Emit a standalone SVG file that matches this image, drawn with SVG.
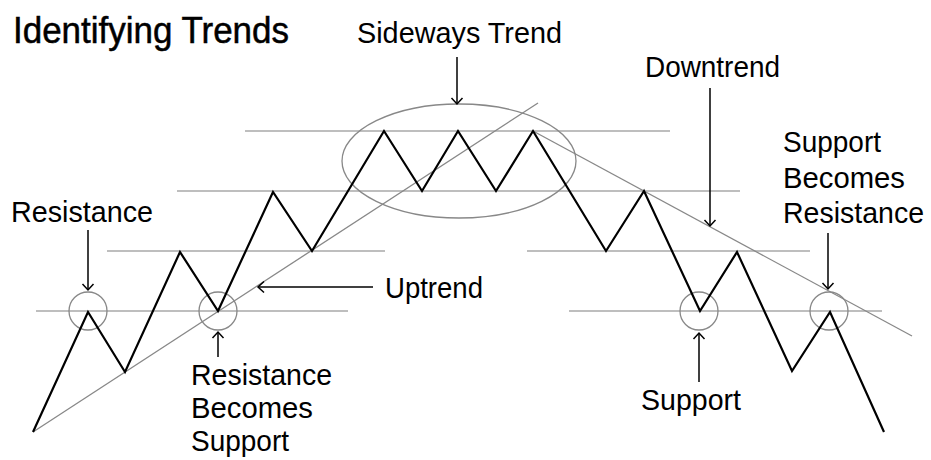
<svg xmlns="http://www.w3.org/2000/svg" width="931" height="460" viewBox="0 0 931 460">
<defs>
<style>
.lbl{font-family:"Liberation Sans",Arial,sans-serif;font-size:29px;fill:#000}
.title{font-family:"Liberation Sans",Arial,sans-serif;font-size:36px;fill:#000;stroke:#000;stroke-width:0.5}
.level{stroke:#a8a8a8;stroke-width:1.5;fill:none}
.trend{stroke:#888;stroke-width:1.3;fill:none}
.ring{stroke:#888;stroke-width:1.3;fill:none}
.price{stroke:#000;stroke-width:2.2;fill:none;stroke-linejoin:miter}
.arrow{stroke:#000;stroke-width:1.5;fill:none;marker-end:url(#head)}
</style>
<marker id="head" viewBox="-8 -7 10 14" markerWidth="10" markerHeight="14" refX="0" refY="0" orient="auto" markerUnits="userSpaceOnUse">
<path d="M-6,-5.5 L0,0 L-6,5.5" stroke="#000" stroke-width="1.5" fill="none"/>
</marker>
</defs>
<rect width="931" height="460" fill="#fff"/>
<g id="title"><text class="title" x="13" y="43" textLength="276" lengthAdjust="spacingAndGlyphs">Identifying Trends</text></g>
<g id="levels">
<line class="level" x1="245" y1="131" x2="670" y2="131"/>
<line class="level" x1="177" y1="191" x2="740" y2="191"/>
<line class="level" x1="107" y1="251" x2="385" y2="251"/>
<line class="level" x1="527" y1="251" x2="810" y2="251"/>
<line class="level" x1="36" y1="311" x2="348" y2="311"/>
<line class="level" x1="569" y1="311" x2="882" y2="311"/>
</g>
<g id="uptrend-line"><line class="trend" x1="33" y1="432" x2="538" y2="103"/></g>
<g id="downtrend-line"><line class="trend" x1="533" y1="131" x2="912" y2="336"/></g>
<g id="sideways-ellipse"><ellipse class="ring" cx="459" cy="161" rx="117" ry="57"/></g>
<g id="resistance-circle"><circle class="ring" cx="88" cy="311" r="19"/></g>
<g id="rbs-circle"><circle class="ring" cx="218" cy="311" r="19"/></g>
<g id="support-circle"><circle class="ring" cx="699" cy="311" r="19"/></g>
<g id="sbr-circle"><circle class="ring" cx="829" cy="311" r="19"/></g>
<g id="price"><polyline class="price" points="33,432 88,312 125,372 180,252 218,311 273,192 312,251 384,131 422,191 458,131 496,191 533,131 606,251 644,191 700,311 737,252 792,371 830,312 884,432"/></g>
<g id="connectors">
<line class="arrow" x1="88" y1="230" x2="88" y2="290"/>
<line class="arrow" x1="218" y1="357" x2="218" y2="332"/>
<line class="arrow" x1="373" y1="287" x2="258" y2="287"/>
<line class="arrow" x1="457" y1="57" x2="457" y2="104"/>
<line class="arrow" x1="710" y1="88" x2="710" y2="226"/>
<line class="arrow" x1="828" y1="233" x2="828" y2="289"/>
<line class="arrow" x1="699" y1="382" x2="699" y2="333"/>
</g>
<g id="label-sideways"><text class="lbl" x="357" y="43" textLength="205" lengthAdjust="spacingAndGlyphs">Sideways Trend</text></g>
<g id="label-downtrend"><text class="lbl" x="645" y="77" textLength="135" lengthAdjust="spacingAndGlyphs">Downtrend</text></g>
<g id="label-sbr">
<text class="lbl" x="783" y="152" textLength="98" lengthAdjust="spacingAndGlyphs">Support</text>
<text class="lbl" x="783" y="188" textLength="122" lengthAdjust="spacingAndGlyphs">Becomes</text>
<text class="lbl" x="783" y="223" textLength="141" lengthAdjust="spacingAndGlyphs">Resistance</text>
</g>
<g id="label-resistance"><text class="lbl" x="11" y="222" textLength="142" lengthAdjust="spacingAndGlyphs">Resistance</text></g>
<g id="label-rbs">
<text class="lbl" x="191" y="385" textLength="141" lengthAdjust="spacingAndGlyphs">Resistance</text>
<text class="lbl" x="191" y="418" textLength="122" lengthAdjust="spacingAndGlyphs">Becomes</text>
<text class="lbl" x="191" y="451" textLength="98" lengthAdjust="spacingAndGlyphs">Support</text>
</g>
<g id="label-uptrend"><text class="lbl" x="385" y="298" textLength="98" lengthAdjust="spacingAndGlyphs">Uptrend</text></g>
<g id="label-support"><text class="lbl" x="641" y="410" textLength="100" lengthAdjust="spacingAndGlyphs">Support</text></g>
</svg>
